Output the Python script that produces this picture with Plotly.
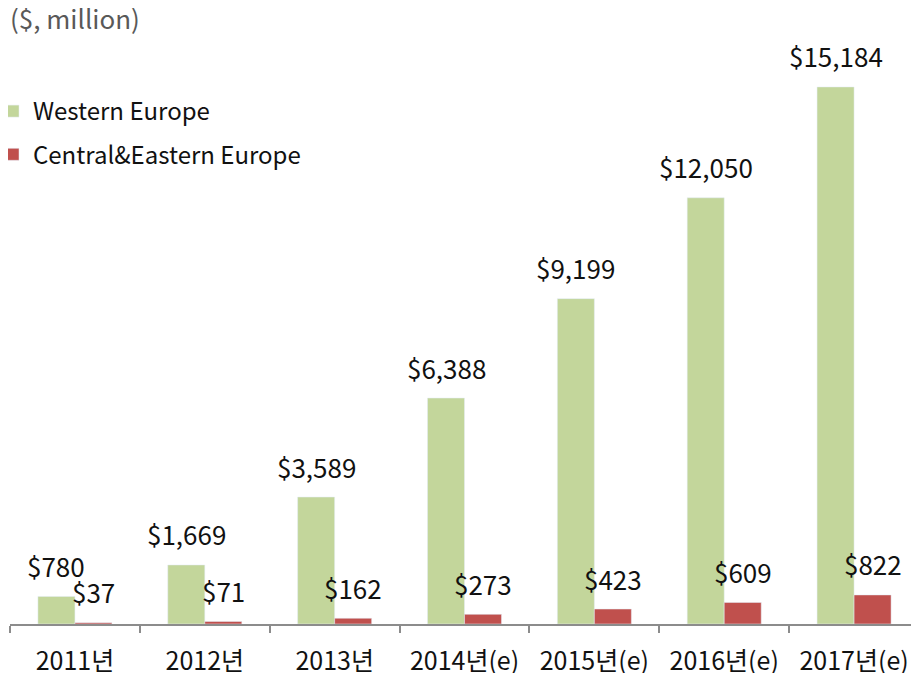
import plotly.graph_objects as go

categories = ["2011년", "2012년", "2013년", "2014년(e)", "2015년(e)", "2016년(e)", "2017년(e)"]
western = [780, 1669, 3589, 6388, 9199, 12050, 15184]
central = [37, 71, 162, 273, 423, 609, 822]
series_names = ["Western Europe", "Central&Eastern Europe"]
colors = ["#C3D69B", "#C0504D"]

FONT = "Noto Sans CJK KR, Noto Sans, sans-serif"

# page body has an 8px margin; figure sized so that it fits the 919x673 viewport
fig = go.Figure()
fig.add_trace(go.Bar(x=categories, y=western, name=series_names[0], marker_color=colors[0],
                     legendgroup="a"))
fig.add_trace(go.Bar(x=categories, y=central, name=series_names[1], marker_color=colors[1],
                     legendgroup="b"))

annotations = []
for vals, shift in ((western, -18.5), (central, 18.5)):
    for c, v in zip(categories, vals):
        annotations.append(dict(x=c, y=v, xref="x", yref="y", text=f"${v:,}", showarrow=False,
                                xshift=shift, yshift=31, yanchor="middle",
                                font=dict(size=26, color="#111111", family=FONT)))
annotations.append(dict(x=0, y=(584 + 22) / 584, xref="paper", yref="paper", text="($, million)",
                        showarrow=False, xanchor="left", yanchor="middle", xshift=-2,
                        font=dict(size=26, color="#595959", family=FONT)))

fig.update_layout(
    width=911, height=665,
    margin=dict(l=2, r=0, t=32, b=49, autoexpand=False),
    paper_bgcolor="white", plot_bgcolor="white",
    barmode="group", bargap=0.43, bargroupgap=0,
    font=dict(family=FONT, size=24, color="#111111"),
    showlegend=True,
    legend=dict(x=-17 / 909, y=(584 - 43 - 6) / 584, xanchor="left", yanchor="top",
                bgcolor="rgba(0,0,0,0)", tracegroupgap=9, itemwidth=30,
                font=dict(size=24, color="#111111", family=FONT)),
    annotations=annotations,
)
fig.update_xaxes(showline=True, linecolor="#8c8c8c", linewidth=2, ticks="outside",
                 tickson="boundaries", ticklen=7, tickcolor="#8c8c8c", tickwidth=2,
                 tickfont=dict(size=25, color="#111111"), ticklabelstandoff=14,
                 automargin=False, range=[-0.5, 6.5])
fig.update_yaxes(visible=False, range=[0, 16511], showgrid=False, automargin=False)

fig.write_html("out.html")
